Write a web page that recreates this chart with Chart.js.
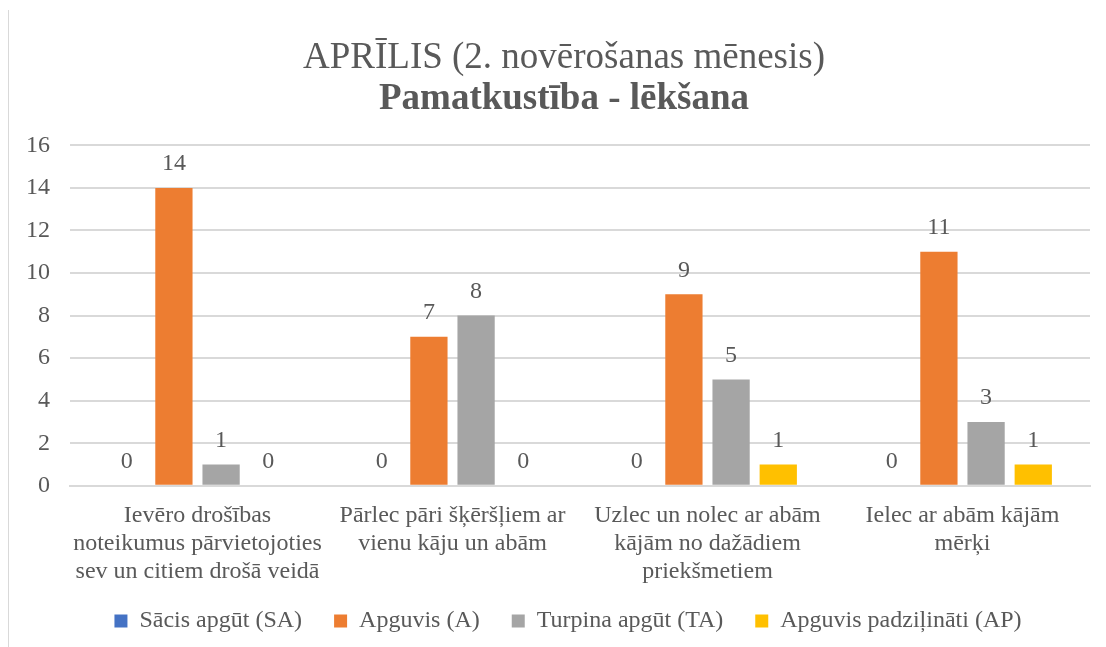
<!DOCTYPE html>
<html>
<head>
<meta charset="utf-8">
<script src="https://cdn.jsdelivr.net/npm/chart.js@4.4.0/dist/chart.umd.min.js"></script>
<style>
  html, body { margin: 0; padding: 0; background: #fff; font-family: 'Liberation Serif', serif; }
  #wrap { position: relative; width: 1106px; height: 647px; }
  #edge { position: absolute; left: 8px; top: 10px; width: 1px; height: 637px; background: #d9d9d9; }
</style>
</head>
<body>
<div id="wrap">
  <div id="edge"></div>
  <canvas id="myChart" width="1106" height="647"></canvas>
</div>
<script>
const categories = [
  ['Ievēro drošības', 'noteikumus pārvietojoties', 'sev un citiem drošā veidā'],
  ['Pārlec pāri šķēršļiem ar', 'vienu kāju un abām'],
  ['Uzlec un nolec ar abām', 'kājām no dažādiem', 'priekšmetiem'],
  ['Ielec ar abām kājām', 'mērķi']
];
const seriesNames = ['Sācis apgūt (SA)', 'Apguvis (A)', 'Turpina apgūt (TA)', 'Apguvis padziļināti (AP)'];
const seriesColors = ['#4472c4', '#ed7d31', '#a5a5a5', '#ffc000'];
const sa = [0, 0, 0, 0];
const a = [14, 7, 9, 11];
const ta = [1, 8, 5, 3];
const ap = [0, 0, 1, 1];

const txt = '#595959';
const serif = "'Liberation Serif', serif";

Chart.defaults.font.family = serif;
Chart.defaults.font.size = 24;
Chart.defaults.color = txt;

// numbers above bars
const valueLabels = {
  id: 'valueLabels',
  afterDatasetsDraw(chart) {
    const c = chart.ctx;
    c.save();
    c.fillStyle = txt;
    c.font = '24px ' + serif;
    c.textAlign = 'center';
    c.textBaseline = 'middle';
    chart.data.datasets.forEach((ds, i) => {
      chart.getDatasetMeta(i).data.forEach((bar, j) => {
        c.fillText(String(ds.data[j]), bar.x, bar.y - 24);
      });
    });
    c.restore();
  }
};

// legend takes less room, titles/legend a bit right of centre like the original
const boxTweaks = {
  id: 'boxTweaks',
  beforeLayout(chart) {
    const lg = chart.legend;
    if (lg && !lg._trimmed) {
      const fit = lg.fit;
      lg.fit = function () { fit.call(this); this.height -= 17; };
      lg._trimmed = true;
    }
  },
  afterLayout(chart) {
    chart.boxes.forEach(b => {
      if (b.position === 'top') { b.left += 16; b.right += 16; }
    });
    const lg = chart.legend;
    if (lg) {
      lg.top -= 17;
      lg.height += 17;
      lg.left += 20; lg.right += 20;
    }
  }
};

function draw() {
  const ctx = document.getElementById('myChart').getContext('2d');
  new Chart(ctx, {
    type: 'bar',
    data: {
      labels: categories,
      datasets: [sa, a, ta, ap].map((d, i) => ({
        label: seriesNames[i],
        data: d,
        backgroundColor: seriesColors[i],
        barPercentage: 0.79,
        categoryPercentage: 0.74
      }))
    },
    options: {
      responsive: false,
      animation: false,
      layout: { padding: { left: 6, right: 16, top: 10, bottom: 4 } },
      plugins: {
        title: {
          display: true,
          text: 'APRĪLIS (2. novērošanas mēnesis)',
          font: { family: serif, size: 37, weight: 'normal', lineHeight: 1.1 },
          padding: { top: 28, bottom: 0 }
        },
        subtitle: {
          display: true,
          text: 'Pamatkustība - lēkšana',
          color: txt,
          font: { family: serif, size: 37, weight: 'bold', lineHeight: 1.1 },
          padding: { top: 0, bottom: 26 }
        },
        legend: {
          position: 'bottom',
          labels: {
            font: { family: serif, size: 24, weight: 'normal' },
            boxWidth: 13,
            boxHeight: 13,
            padding: 32
          }
        },
        tooltip: { enabled: false }
      },
      scales: {
        x: {
          grid: { display: false },
          border: { color: '#d9d9d9', width: 2 },
          ticks: { font: { family: serif, size: 24, weight: 'normal', lineHeight: 1.17 }, maxRotation: 0, padding: 8 }
        },
        y: {
          min: 0,
          max: 16,
          ticks: { stepSize: 2, font: { family: serif, size: 24, weight: 'normal' }, padding: 20 },
          grid: { color: '#d9d9d9', lineWidth: 2, drawTicks: false },
          border: { display: false }
        }
      }
    },
    plugins: [valueLabels, boxTweaks]
  });
}

Promise.all([
  document.fonts.load("24px 'Liberation Serif'"),
  document.fonts.load("bold 37px 'Liberation Serif'")
]).then(draw, draw);
</script>
</body>
</html>
